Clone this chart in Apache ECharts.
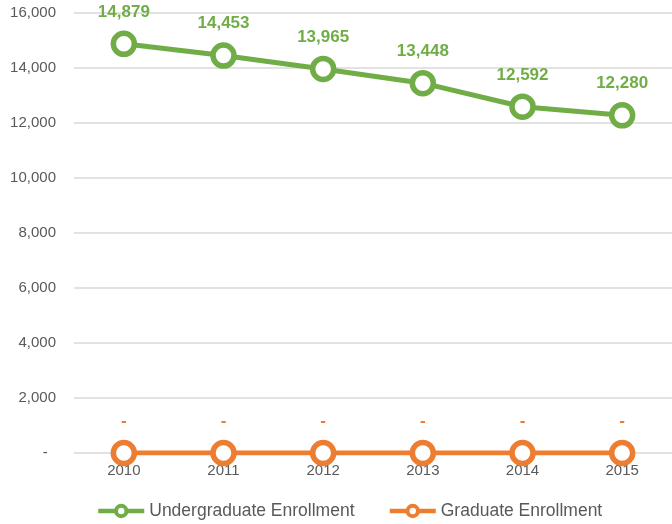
<!DOCTYPE html>
<html><head><meta charset="utf-8">
<script src="https://cdn.jsdelivr.net/npm/echarts@6/dist/echarts.min.js"></script>
<style>html,body{margin:0;padding:0;background:#fff}#c{width:672px;height:524px}</style>
</head><body><div id="c"></div>
<script>
const categories = ['2010','2011','2012','2013','2014','2015'];
const undergrad = [14879,14453,13965,13448,12592,12280];
const graduate = [0,0,0,0,0,0];
const yTicks = [0,2000,4000,6000,8000,10000,12000,14000,16000];

const fmt = v => v === 0 ? '-' : v.toLocaleString('en-US');
const green = '#70ad47', orange = '#ed7d31';
const chart = echarts.init(document.getElementById('c'));
chart.setOption({
  animation:false,
  textStyle:{fontFamily:'Arial, Liberation Sans, sans-serif'},
  grid:{left:74,top:13,width:602,height:440,containLabel:false},
  xAxis:{type:'category',data:categories,boundaryGap:true,
    axisLine:{show:false},axisTick:{show:false},
    axisLabel:{color:'#595959',fontSize:15,margin:10}},
  yAxis:{type:'value',min:yTicks[0],max:yTicks[yTicks.length-1],interval:2000,
    axisLine:{show:false},axisTick:{show:false},
    splitLine:{lineStyle:{color:'#d9d9d9',width:1.5}},
    axisLabel:{color:'#595959',fontSize:15,margin:18,formatter:v => v === 0 ? '-  ' : fmt(v)}},
  legend:{top:502,left:96,padding:0,itemWidth:46,itemHeight:13,itemGap:33,
    textStyle:{color:'#595959',fontSize:17.5},
    lineStyle:{width:4.5},itemStyle:{borderWidth:4},
    data:['Undergraduate Enrollment','Graduate Enrollment']},
  series:[
    {name:'Undergraduate Enrollment',type:'line',data:undergrad,symbol:'circle',symbolSize:21,
     lineStyle:{color:green,width:5},itemStyle:{color:'#fff',borderColor:green,borderWidth:5.5},
     label:{show:true,position:'top',distance:10,color:green,fontWeight:'bold',fontSize:17,formatter:p=>fmt(p.value)}},
    {name:'Graduate Enrollment',type:'line',data:graduate,symbol:'circle',symbolSize:21,
     lineStyle:{color:orange,width:5},itemStyle:{color:'#fff',borderColor:orange,borderWidth:5.5},
     label:{show:true,position:'top',distance:10,color:orange,fontWeight:'bold',fontSize:17,formatter:p=>fmt(p.value)}}
  ]
});
</script></body></html>
